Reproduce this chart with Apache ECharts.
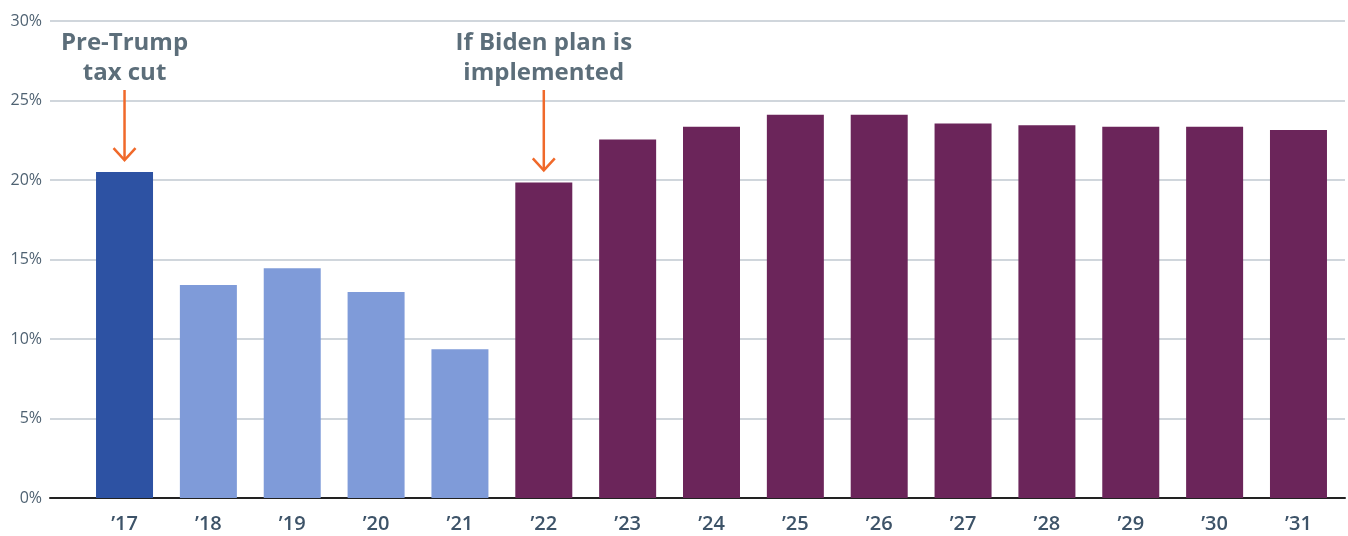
<!DOCTYPE html>
<html><head><meta charset="utf-8">
<script src="https://cdn.jsdelivr.net/npm/echarts@6/dist/echarts.min.js"></script>
<style>html,body{margin:0;padding:0;background:#fff}#c{width:1348px;height:536px}</style>
</head><body><div id="c"></div>
<script>
const categories = ["\u201917","\u201918","\u201919","\u201920","\u201921","\u201922","\u201923","\u201924","\u201925","\u201926","\u201927","\u201928","\u201929","\u201930","\u201931"];
const values = [20.5, 13.4, 14.45, 12.95, 9.35, 19.85, 22.55, 23.35, 24.1, 24.1, 23.55, 23.45, 23.35, 23.35, 23.15];
const barGroups = ["pre","trump","trump","trump","trump","biden","biden","biden","biden","biden","biden","biden","biden","biden","biden"];
const groupColors = {pre:"#2d52a3", trump:"#7f9bd9", biden:"#6b255a"};
const yTicks = [0,5,10,15,20,25,30];
const annotations = [
  {category:"\u201917", text:"Pre-Trump\ntax cut"},
  {category:"\u201922", text:"If Biden plan is\nimplemented"}
];

const chart = echarts.init(document.getElementById('c'), null, {renderer:'canvas'});
const FONT = '"Open Sans", Lato, sans-serif';
chart.setOption({
  animation:false,
  grid:[
    {left:50, right:3, top:21, bottom:38},
    {left:82.6, right:7.6, top:21, bottom:38}
  ],
  xAxis:[
    {gridIndex:0, type:'value', min:0, max:1, show:true,
     axisLine:{show:true, onZero:false, lineStyle:{color:'#222', width:2}},
     axisTick:{show:false}, axisLabel:{show:false}, splitLine:{show:false}},
    {gridIndex:1, type:'category', data:categories,
     axisLine:{show:false}, axisTick:{show:false},
     axisLabel:{margin:16, fontSize:20, fontWeight:600, color:'#3d5368', fontFamily:FONT}}
  ],
  yAxis:[
    {gridIndex:0, type:'value', min:yTicks[0], max:yTicks[yTicks.length-1], interval:5,
     axisLine:{show:false}, axisTick:{show:false},
     axisLabel:{margin:8, fontSize:16, color:'#4f6272', fontFamily:FONT, formatter:v=>v+'%'},
     splitLine:{show:true, lineStyle:{color:'#d0d6dc', width:2}}},
    {gridIndex:1, type:'value', min:yTicks[0], max:yTicks[yTicks.length-1], interval:5, show:false,
     splitLine:{show:false}}
  ],
  series:[{
    type:'bar', xAxisIndex:1, yAxisIndex:1, barWidth:57,
    data: values.map((v,i)=>({value:v, itemStyle:{color:groupColors[barGroups[i]]}}))
  }]
});

const g = [];
annotations.forEach(a=>{
  const i = categories.indexOf(a.category);
  const p = chart.convertToPixel({xAxisIndex:1, yAxisIndex:1}, [i, values[i]]);
  const x = p[0];
  const tipY = p[1] - 12;
  const topY = 90;
  g.push({type:'text', position:[x,28],
    style:{text:a.text, x:0, y:0, align:'center', verticalAlign:'top', fontSize:24, fontWeight:700,
      lineHeight:30, fill:'#5c6e7a', fontFamily:FONT}});
  g.push({type:'line', shape:{x1:x, y1:topY, x2:x, y2:tipY}, style:{stroke:'#f0692a', lineWidth:2.5}});
  g.push({type:'polyline', shape:{points:[[x-11,tipY-12],[x,tipY],[x+11,tipY-12]]}, style:{stroke:'#f0692a', lineWidth:2.5, fill:null}});
});
chart.setOption({graphic:g});
</script>
</body></html>
